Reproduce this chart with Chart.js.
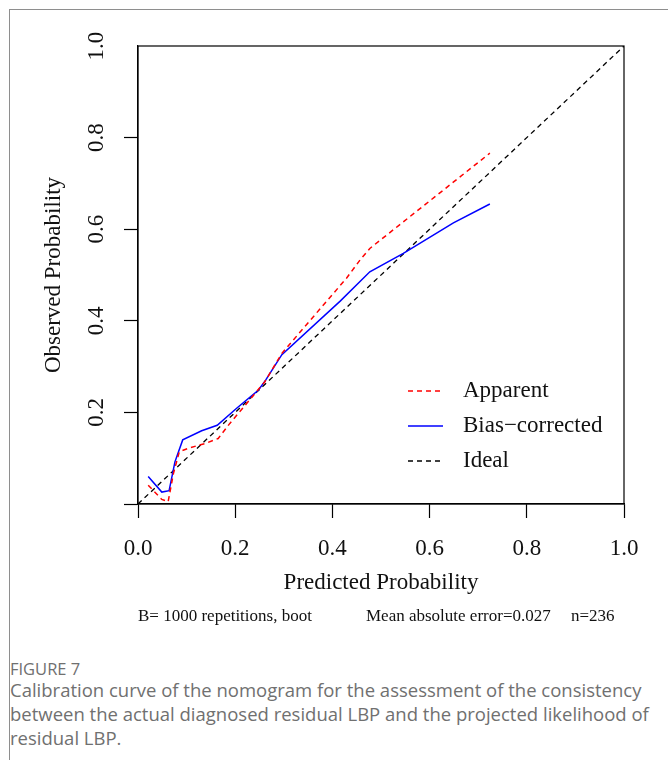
<!DOCTYPE html>
<html>
  <head>
    <script src="https://cdn.jsdelivr.net/npm/chart.js"></script>
    <style>
      body {
        margin: 0;
        padding: 0;
        background: #fff;
        width: 668px;
        height: 760px;
        position: relative;
        overflow: hidden;
      }
      #frame {
        position: absolute;
        left: 9px;
        top: 9px;
        width: 670px;
        height: 760px;
        border-top: 1px solid #8e8e8e;
        border-left: 1px solid #8e8e8e;
      }
      #myChart {
        position: absolute;
        left: 0;
        top: 0;
      }
      .fig {
        position: absolute;
        left: 10px;
        top: 657px;
        font-family: "Open Sans", sans-serif;
        font-size: 16.5px;
        color: #707070;
      }
      .caption {
        position: absolute;
        left: 10px;
        top: 678px;
        width: 652px;
        font-family: "Open Sans", sans-serif;
        font-size: 18.5px;
        line-height: 24px;
        color: #707070;
      }
    </style>
  </head>
  <body>
    <div id="frame"></div>
    <canvas id="myChart" width="668" height="640"></canvas>
    <div class="fig">FIGURE 7</div>
    <div class="caption">Calibration curve of the nomogram for the assessment of the consistency between the actual diagnosed residual LBP and the projected likelihood of residual LBP.</div>

    <script>
      // values
      const seriesNames = ['Apparent', 'Bias\u2212corrected', 'Ideal'];

      const apparentX = [0.021, 0.049, 0.062, 0.073, 0.085, 0.104, 0.138, 0.165, 0.189, 0.224, 0.261, 0.296, 0.390, 0.429, 0.457, 0.477, 0.724];
      const apparentY = [0.041, 0.010, 0.005, 0.067, 0.114, 0.122, 0.132, 0.143, 0.176, 0.220, 0.267, 0.329, 0.445, 0.493, 0.533, 0.558, 0.766];

      const biasX = [0.021, 0.049, 0.064, 0.076, 0.092, 0.131, 0.163, 0.203, 0.248, 0.263, 0.296, 0.416, 0.477, 0.546, 0.649, 0.724];
      const biasY = [0.060, 0.026, 0.029, 0.092, 0.140, 0.160, 0.172, 0.209, 0.249, 0.271, 0.326, 0.443, 0.507, 0.547, 0.614, 0.655];

      const idealX = [0, 1];
      const idealY = [0, 1];

      const xTicks = [0, 0.2, 0.4, 0.6, 0.8, 1.0];
      const yTicks = [0, 0.2, 0.4, 0.6, 0.8, 1.0];

      const footNotes = ['B= 1000 repetitions, boot', 'Mean absolute error=0.027', 'n=236'];

      const serif = '"Liberation Serif", "Times New Roman", serif';

      function pts(xs, ys) {
        return xs.map((x, i) => ({ x: x, y: ys[i] }));
      }

      const extras = {
        id: 'extras',
        afterDraw(chart) {
          const ctx = chart.ctx;
          const a = chart.chartArea;
          ctx.save();
          // plot box
          ctx.strokeStyle = '#000';
          ctx.lineWidth = 1.2;
          ctx.strokeRect(a.left, a.top, a.right - a.left, a.bottom - a.top);

          // legend inside the plot
          ctx.font = '23px ' + serif;
          ctx.textBaseline = 'middle';
          ctx.textAlign = 'left';
          chart.data.datasets.forEach((ds, i) => {
            const y = 391 + i * 35;
            ctx.strokeStyle = ds.borderColor;
            ctx.lineWidth = ds.borderWidth;
            ctx.setLineDash(ds.borderDash || []);
            ctx.beginPath();
            ctx.moveTo(408, y);
            ctx.lineTo(443, y);
            ctx.stroke();
            ctx.fillStyle = '#111';
            ctx.fillText(ds.label, 463, y);
          });
          ctx.setLineDash([]);

          // note line under the x axis title
          ctx.font = '17px ' + serif;
          ctx.fillStyle = '#111';
          ctx.fillText(footNotes[0], 138, 617);
          ctx.fillText(footNotes[1], 366, 617);
          ctx.fillText(footNotes[2], 571, 617);
          ctx.restore();
        }
      };

      const ctx = document.getElementById('myChart').getContext('2d');
      new Chart(ctx, {
        type: 'scatter',
        data: {
          datasets: [
            {
              label: seriesNames[0],
              data: pts(apparentX, apparentY),
              showLine: true,
              borderColor: '#ff0000',
              borderWidth: 1.5,
              borderDash: [5, 4],
              pointRadius: 0,
              fill: false
            },
            {
              label: seriesNames[1],
              data: pts(biasX, biasY),
              showLine: true,
              borderColor: '#0000ff',
              borderWidth: 1.5,
              pointRadius: 0,
              fill: false
            },
            {
              label: seriesNames[2],
              data: pts(idealX, idealY),
              showLine: true,
              borderColor: '#000000',
              borderWidth: 1.3,
              borderDash: [5, 4],
              pointRadius: 0,
              fill: false
            }
          ]
        },
        options: {
          responsive: false,
          animation: false,
          devicePixelRatio: 1,
          layout: { padding: { left: 0, top: 46, right: 44, bottom: 43 } },
          plugins: {
            legend: { display: false },
            tooltip: { enabled: false }
          },
          scales: {
            x: {
              type: 'linear',
              min: 0,
              max: 1,
              afterBuildTicks(scale) { scale.ticks = xTicks.map(v => ({ value: v })); },
              afterFit(scale) { scale.height = 93; },
              grid: { drawOnChartArea: false, drawTicks: true, tickLength: 14, tickColor: '#000', tickWidth: 1.2 },
              border: { display: true, color: '#000', width: 1.2 },
              ticks: {
                padding: 17,
                color: '#111',
                font: { family: serif, size: 23 },
                callback: v => Number(v).toFixed(1)
              },
              title: {
                display: true,
                text: 'Predicted Probability',
                color: '#111',
                padding: { top: 0, bottom: 0 },
                font: { family: serif, size: 23 }
              }
            },
            y: {
              type: 'linear',
              min: 0,
              max: 1,
              afterBuildTicks(scale) { scale.ticks = yTicks.map(v => ({ value: v })); },
              afterFit(scale) { scale.width = 138; },
              grid: {
                drawOnChartArea: false,
                drawTicks: true,
                tickLength: 14,
                tickWidth: 1.2,
                tickColor: c => (c.tick && c.tick.value === 1 ? 'rgba(0,0,0,0)' : '#000')
              },
              border: { display: true, color: '#000', width: 1.2 },
              ticks: {
                padding: 13,
                minRotation: 90,
                maxRotation: 90,
                crossAlign: 'center',
                color: '#111',
                font: { family: serif, size: 23 },
                callback: v => (v === 0 ? '' : Number(v).toFixed(1))
              },
              title: {
                display: true,
                text: 'Observed Probability',
                color: '#111',
                padding: { top: 40, bottom: 0 },
                font: { family: serif, size: 23 }
              }
            }
          }
        },
        plugins: [extras]
      });
    </script>
  </body>
</html>
